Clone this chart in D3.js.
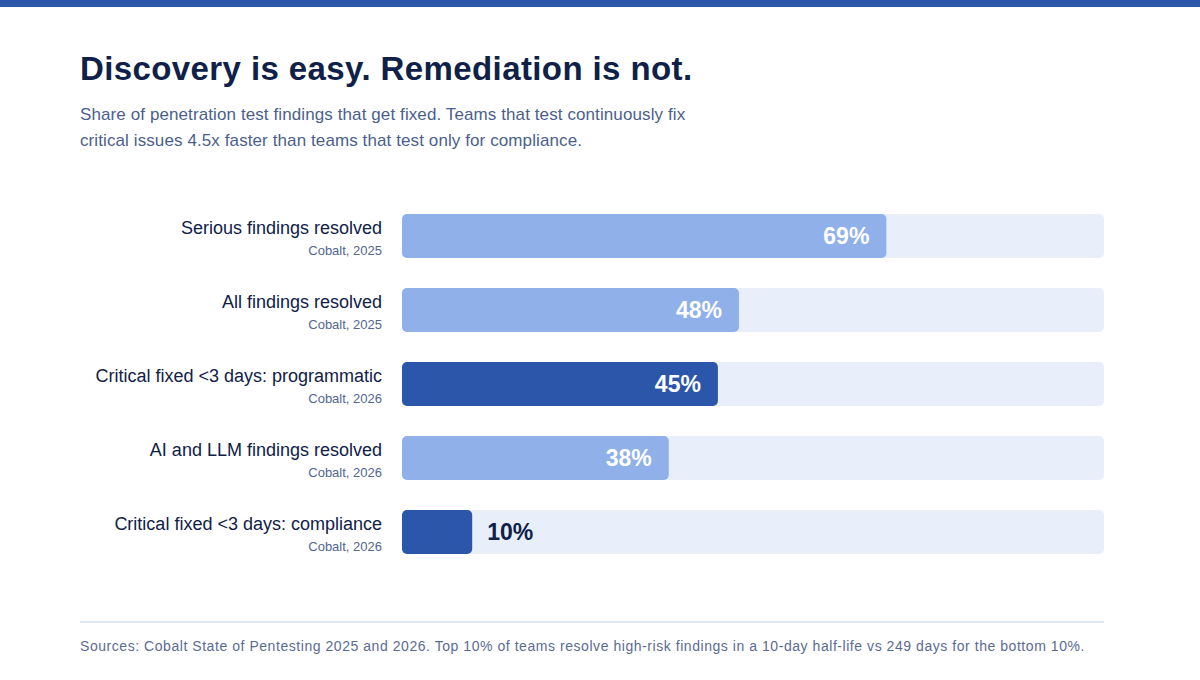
<!DOCTYPE html>
<html>
<head>
<meta charset="utf-8">
<script src="https://cdn.jsdelivr.net/npm/d3@7"></script>
<style>
  html, body { margin: 0; padding: 0; background: #fff; }
  svg { display: block; font-family: "Liberation Sans", Arial, sans-serif; }
</style>
</head>
<body>
<div id="chart"></div>
<script>
// ---- DATA ----
const labels = [
  "Serious findings resolved",
  "All findings resolved",
  "Critical fixed <3 days: programmatic",
  "AI and LLM findings resolved",
  "Critical fixed <3 days: compliance"
];
const sources = ["Cobalt, 2025", "Cobalt, 2025", "Cobalt, 2026", "Cobalt, 2026", "Cobalt, 2026"];
const values = [69, 48, 45, 38, 10];
const highlight = [false, false, true, false, true];

const width = 1200;
const height = 680;
const margin = { top: 214, right: 96, bottom: 126, left: 402 };
const barH = 44;
const step = 74;

const dataset = labels.map((l, i) => ({
  label: l, source: sources[i], value: values[i], hi: highlight[i]
}));

const svg = d3.select("#chart")
  .append("svg")
  .attr("width", width)
  .attr("height", height);

// ---- HEADER ----
svg.append("rect")
  .attr("x", 0).attr("y", 0)
  .attr("width", width).attr("height", 7)
  .attr("fill", "#2c56a9");

svg.append("text")
  .attr("x", 80).attr("y", 80)
  .attr("font-size", 33)
  .attr("font-weight", 700)
  .attr("letter-spacing", 0.4)
  .attr("fill", "#0f2148")
  .text("Discovery is easy. Remediation is not.");

const sub = svg.append("text")
  .attr("font-size", 17)
  .attr("letter-spacing", 0.1)
  .attr("fill", "#4b5f8c");
sub.append("tspan").attr("x", 80).attr("y", 120)
  .text("Share of penetration test findings that get fixed. Teams that test continuously fix");
sub.append("tspan").attr("x", 80).attr("y", 146)
  .text("critical issues 4.5x faster than teams that test only for compliance.");

// ---- SCALES ----
const x = d3.scaleLinear()
  .domain([0, 100])
  .range([margin.left, width - margin.right]);

const y = d3.scaleBand()
  .domain(labels)
  .range([margin.top, margin.top + step * (labels.length - 1) + barH])
  .paddingInner((step - barH) / step)
  .paddingOuter(0);

// ---- TRACKS ----
svg.selectAll("rect.track")
  .data(dataset)
  .enter()
  .append("rect")
  .attr("class", "track")
  .attr("x", x(0))
  .attr("y", d => y(d.label))
  .attr("width", x(100) - x(0))
  .attr("height", y.bandwidth())
  .attr("rx", 5)
  .attr("fill", "#e8effb");

// ---- BARS ----
svg.selectAll("rect.bar")
  .data(dataset)
  .enter()
  .append("rect")
  .attr("class", "bar")
  .attr("x", x(0))
  .attr("y", d => y(d.label))
  .attr("width", d => x(d.value) - x(0))
  .attr("height", y.bandwidth())
  .attr("rx", 5)
  .attr("fill", d => d.hi ? "#2c56a9" : "#90b0e9");

// ---- VALUE LABELS ----
svg.selectAll("text.val")
  .data(dataset)
  .enter()
  .append("text")
  .attr("class", "val")
  .attr("x", d => d.value < 20 ? x(d.value) + 15 : x(d.value) - 17)
  .attr("y", d => y(d.label) + y.bandwidth() / 2 + 8)
  .attr("text-anchor", d => d.value < 20 ? "start" : "end")
  .attr("font-size", 23)
  .attr("font-weight", 700)
  .attr("fill", d => d.value < 20 ? "#0f2148" : "#ffffff")
  .text(d => d.value + "%");

// ---- CATEGORY LABELS ----
svg.selectAll("text.cat")
  .data(dataset)
  .enter()
  .append("text")
  .attr("class", "cat")
  .attr("x", x(0) - 20)
  .attr("y", d => y(d.label) + 20)
  .attr("text-anchor", "end")
  .attr("font-size", 18)
  .attr("fill", "#0f2148")
  .text(d => d.label);

svg.selectAll("text.src")
  .data(dataset)
  .enter()
  .append("text")
  .attr("class", "src")
  .attr("x", x(0) - 20)
  .attr("y", d => y(d.label) + 41)
  .attr("text-anchor", "end")
  .attr("font-size", 13)
  .attr("fill", "#52668f")
  .text(d => d.source);

// ---- FOOTER ----
svg.append("line")
  .attr("x1", 80).attr("x2", x(100))
  .attr("y1", 622).attr("y2", 622)
  .attr("stroke", "#dde7f8")
  .attr("stroke-width", 2);

svg.append("text")
  .attr("x", 80).attr("y", 651)
  .attr("font-size", 14)
  .attr("letter-spacing", 0.55)
  .attr("fill", "#5a6b92")
  .text("Sources: Cobalt State of Pentesting 2025 and 2026. Top 10% of teams resolve high-risk findings in a 10-day half-life vs 249 days for the bottom 10%.");
</script>
</body>
</html>
